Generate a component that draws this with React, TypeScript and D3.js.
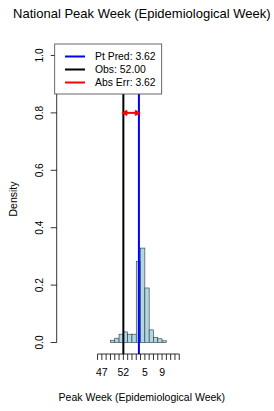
import React from 'react';
import * as d3 from 'd3';

const W = 274;
const H = 411;
const FONT = 'Liberation Sans, Arial, Helvetica, sans-serif';

// histogram bins: left edge (continuous season week, 53 = wk 1 of next year) and density
const binStart = [47, 48, 49, 50, 51, 52, 53, 54, 55, 56, 57, 58, 59, 60, 61, 62, 63, 64];
const density = [0, 0, 0.008, 0.015, 0.029, 0.037, 0.029, 0.029, 0.282, 0.329, 0.19, 0.044, 0.017, 0.013, 0.006, 0, 0, 0];

const xTicks = d3.range(46, 66);
const xLabelAt = [47, 52, 57, 61];
const xLabels = ['47', '52', '5', '9'];
const yTicks = [0, 0.2, 0.4, 0.6, 0.8, 1.0];

const obsWeek = 52.0;
const predWeek = 52 + 3.62;
const arrowY = 0.8;

const legendItems = [
  { label: 'Pt Pred: 3.62', color: '#0000ff' },
  { label: 'Obs: 52.00', color: '#000000' },
  { label: 'Abs Err: 3.62', color: '#ff0000' },
];

export default function App() {
  // plot region
  const left = 56.7, right = 227, top = 44, bottom = 354;
  const x = d3.scaleLinear().domain([36.5, 76.1]).range([left, right]);
  const y = d3.scaleLinear().domain([-0.04, 1.04]).range([bottom, top]);

  const ax1 = x(obsWeek), ax2 = x(predWeek), ay = y(arrowY);
  const ah = 4.5, ang = Math.PI / 6;

  return (
    <div style={{ position: 'fixed', left: 0, top: 0 }}>
      <svg width={W} height={H} style={{ display: 'block', background: '#fff' }} fontFamily={FONT}>
        <text x={(left + right) / 2} y={17.5} textAnchor="middle" fontSize={13} fill="#000">
          National Peak Week (Epidemiological Week)
        </text>

        {/* bars */}
        {binStart.map((b, i) => (
          <rect key={b} x={x(b)} y={y(density[i])} width={x(b + 1) - x(b)}
            height={y(0) - y(density[i])} fill="#add8e6" stroke="#333" strokeWidth={0.6} />
        ))}

        {/* vertical lines */}
        <line x1={ax1} x2={ax1} y1={top} y2={bottom} stroke="#000" strokeWidth={2} />
        <line x1={ax2} x2={ax2} y1={top} y2={bottom} stroke="#0000ff" strokeWidth={2} />

        {/* error arrow */}
        <g stroke="#ff0000" strokeWidth={2} fill="none">
          <line x1={ax1} x2={ax2} y1={ay} y2={ay} />
          <path d={`M${ax1 + ah * Math.cos(ang)},${ay - ah * Math.sin(ang)}L${ax1},${ay}L${ax1 + ah * Math.cos(ang)},${ay + ah * Math.sin(ang)}`} />
          <path d={`M${ax2 - ah * Math.cos(ang)},${ay - ah * Math.sin(ang)}L${ax2},${ay}L${ax2 - ah * Math.cos(ang)},${ay + ah * Math.sin(ang)}`} />
        </g>

        {/* y axis */}
        <g stroke="#000" strokeWidth={0.8}>
          <line x1={left} x2={left} y1={y(0)} y2={y(1)} />
          {yTicks.map(t => <line key={t} x1={left} x2={left - 6} y1={y(t)} y2={y(t)} />)}
        </g>
        {yTicks.map(t => (
          <text key={t} transform={`translate(${left - 14},${y(t)}) rotate(-90)`} textAnchor="middle"
            fontSize={10.2} fill="#000">{d3.format('.1f')(t)}</text>
        ))}
        <text transform={`translate(16.5,${(top + bottom) / 2}) rotate(-90)`} textAnchor="middle"
          fontSize={10.5} fill="#000">Density</text>

        {/* x axis */}
        <g stroke="#000" strokeWidth={0.8}>
          <line x1={x(xTicks[0])} x2={x(xTicks[xTicks.length - 1])} y1={bottom} y2={bottom} />
          {xTicks.map(t => <line key={t} x1={x(t)} x2={x(t)} y1={bottom} y2={bottom + 6} />)}
        </g>
        {xLabelAt.map((t, i) => (
          <text key={t} x={x(t)} y={375.5} textAnchor="middle" fontSize={10.5} fill="#000">{xLabels[i]}</text>
        ))}
        <text x={(left + right) / 2} y={401} textAnchor="middle" fontSize={10.5} fill="#000">
          Peak Week (Epidemiological Week)
        </text>

        {/* legend */}
        <rect x={left - 2} y={top} width={107} height={50} fill="#fff" stroke="#444" strokeWidth={0.8} />
        {legendItems.map((d, i) => (
          <g key={d.label}>
            <line x1={65} x2={85} y1={56.5 + i * 13} y2={56.5 + i * 13} stroke={d.color} strokeWidth={2} />
            <text x={95} y={56.5 + i * 13} dy="0.35em" fontSize={10.4} fill="#000">{d.label}</text>
          </g>
        ))}
      </svg>
    </div>
  );
}
